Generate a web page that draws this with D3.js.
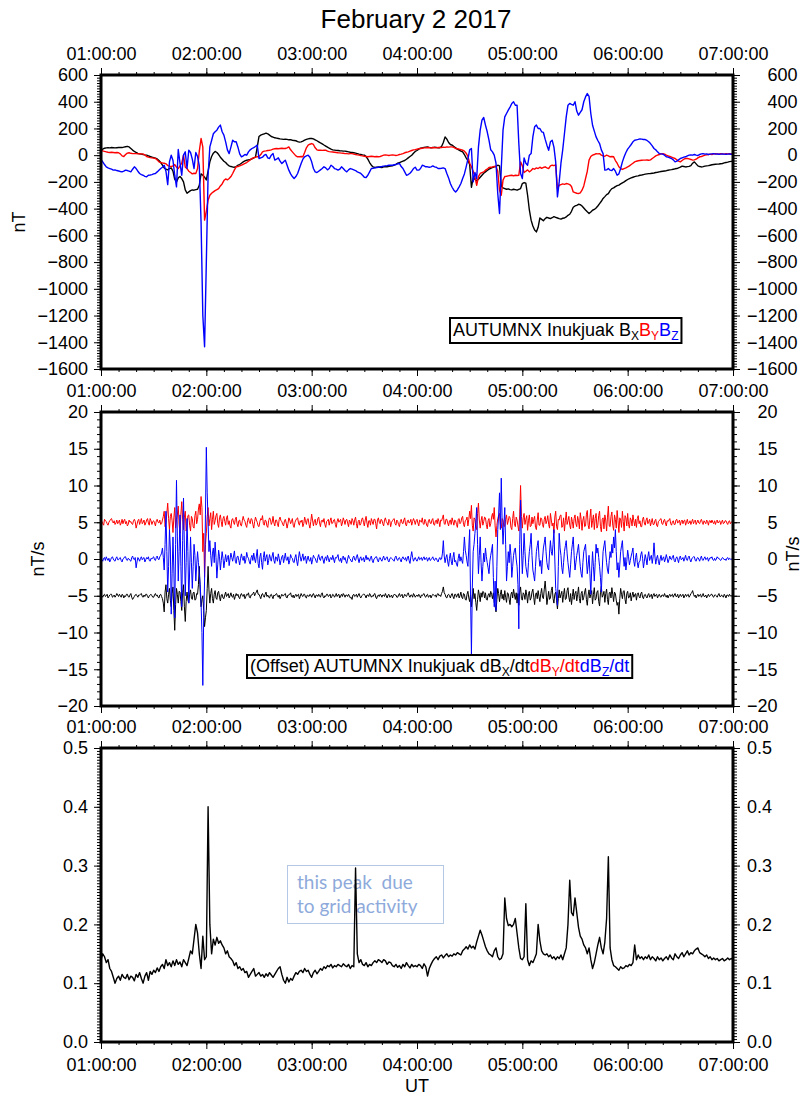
<!DOCTYPE html>
<html>
<head>
<meta charset="utf-8">
<script src="https://cdn.jsdelivr.net/npm/d3@7"></script>
<style>
  body { margin: 0; background: #fff; }
  svg { display: block; font-family: "Liberation Sans", Arial, Helvetica, sans-serif; }
</style>
</head>
<body>
<svg width="802" height="1096"></svg>
<script>
'use strict';

// samples start at 01:00:00 UT
const startTime = Date.UTC(2017, 1, 2, 1, 0, 0);
const endTime = Date.UTC(2017, 1, 2, 7, 0, 0);
const fieldStepSeconds = 60;
const rateStepSeconds = 30;
const lowerStepSeconds = 60;

const hourTicks = ["01:00:00", "02:00:00", "03:00:00", "04:00:00", "05:00:00", "06:00:00", "07:00:00"];
const fieldTicks = [600, 400, 200, 0, -200, -400, -600, -800, -1000, -1200, -1400, -1600];
const rateTicks = [20, 15, 10, 5, 0, -5, -10, -15, -20];
const lowerTicks = [0.5, 0.4, 0.3, 0.2, 0.1, 0.0];

// field components, nT, one per minute
const bx = [
  40, 45, 52, 55, 56, 55, 57, 56, 55, 56,
  57, 58, 57, 60, 63, 66, 62, 50, 38, 28,
  20, 14, 10, 8, 5, 2, 0, -5, -10, -14,
  -18, -22, -28, -40, -55, -75, -95, -105, -110, -100,
  -95, -120, -180, -200, -170, -160, -175, -200, -260, -285,
  -275, -265, -260, -262, -258, -255, -225, -140, -150, -165,
  -185, -120, -50, -10, 15, 28, 20, 5, -15, -30,
  -45, -55, -70, -80, -85, -88, -90, -85, -75, -70,
  -60, -50, -42, -38, -35, -32, -28, -20, -15, 60,
  140, 150, 155, 160, 165, 160, 150, 140, 135, 130,
  128, 125, 122, 120, 118, 120, 118, 115, 116, 112,
  110, 108, 102, 98, 100, 105, 112, 118, 122, 125,
  125, 122, 115, 108, 100, 92, 85, 76, 68, 60,
  52, 45, 40, 38, 36, 35, 33, 32, 30, 30,
  28, 25, 22, 20, 18, 15, 12, 8, 5, 2,
  0, -10, -30, -55, -75, -88, -92, -90, -88, -90,
  -92, -88, -85, -87, -84, -82, -80, -75, -68, -60,
  -55, -50, -45, -40, -30, -20, -10, 0, 15, 28,
  35, 45, 52, 55, 58, 60, 62, 58, 55, 57,
  60, 58, 55, 56, 65, 95, 137, 120, 95, 80,
  75, 65, 55, 45, 38, 30, 25, 5, -20, -40,
  -70, -240, -170, -180, -190, -180, -165, -150, -135, -125,
  -115, -105, -98, -92, -88, -85, -75, -80, -230, -245,
  -250, -255, -252, -258, -260, -255, -258, -262, -256, -250,
  -212, -205, -210, -300, -410, -486, -530, -560, -574, -540,
  -470, -480, -490, -475, -465, -470, -474, -468, -460, -465,
  -470, -475, -478, -472, -470, -462, -450, -442, -420, -390,
  -380, -375, -367, -370, -380, -395, -410, -424, -436, -425,
  -412, -406, -395, -380, -362, -345, -324, -310, -295, -287,
  -265, -250, -245, -235, -228, -224, -215, -207, -200, -190,
  -182, -175, -170, -165, -160, -157, -155, -150, -148, -145,
  -142, -140, -138, -137, -135, -133, -130, -128, -125, -122,
  -120, -118, -116, -113, -110, -108, -105, -102, -100, -95,
  -90, -82, -85, -88, -86, -84, -78, -60, -50, -65,
  -80, -85, -88, -86, -82, -80, -78, -75, -72, -70,
  -68, -67, -66, -64, -62, -58, -55, -52, -48, -46,
  -45
];

const by = [
  37, 32, 28, 25, 22, 20, 22, 20, 18, 20,
  18, 10, -5, -10, 5, 15, 18, 14, 12, 12,
  12, 10, 12, 10, 8, 2, -10, -15, -18, -20,
  -22, -25, -35, -50, -55, -58, -60, -65, -78, -82,
  -85, -80, -70, -90, -100, -80, -60, 0, -90, -100,
  -120, -130, -140, -135, -138, -100, 30, 125, 60, -486,
  -420, -337, -300, -285, -275, -265, -258, -250, -230, -215,
  -190, -178, -185, -175, -160, -137, -110, -87, -85, -80,
  -75, -68, -62, -55, -45, -35, -25, -20, -15, -12,
  -10, 5, 25, 30, 32, 35, 37, 40, 45, 48,
  50, 48, 50, 52, 50, 50, 55, 62, 40, 25,
  10, -5, -12, -12, -10, -12, 20, 55, 75, 82,
  87, 80, 55, 40, 37, 38, 36, 37, 37, 30,
  27, 25, 24, 22, 20, 18, 17, 15, 14, 12,
  12, 10, 12, 12, 8, 5, 2, 0, -3, -5,
  -8, -10, -12, -10, -8, -10, -12, -10, -12, -10,
  -5, 0, 2, 0, -2, 0, 2, 0, -2, 0,
  5, 8, 12, 18, 22, 25, 30, 35, 40, 42,
  45, 48, 50, 52, 55, 55, 57, 56, 55, 57,
  56, 55, 57, 58, 57, 60, 58, 62, 60, 62,
  62, 58, 50, 48, 45, 42, 37, 30, 15, -10,
  -60, -87, -120, -162, -225, -160, -137, -130, -125, -112,
  -105, -92, -90, -88, -85, -82, -120, -262, -300, -187,
  -160, -158, -155, -152, -150, -155, -150, -152, -150, -50,
  -80, -130, -120, -110, -125, -115, -100, -105, -95, -100,
  -90, -98, -92, -87, -95, -100, -80, -75, -78, -72,
  -250, -225, -220, -215, -218, -212, -215, -220, -235, -275,
  -280, -285, -287, -282, -262, -230, -175, -120, -37, -10,
  0, 5, 12, 10, 12, 0, -5, -8, 0, -5,
  -12, -10, -12, -40, -60, -87, -100, -107, -100, -95,
  -88, -80, -70, -60, -50, -45, -42, -40, -38, -37,
  -37, -36, -38, -35, -25, -15, -5, 0, 5, 10,
  12, 8, 0, -5, -10, -15, -20, -25, -35, -45,
  -50, -40, -30, -25, -25, -28, -32, -37, -35, -30,
  -20, -12, -10, -5, 0, 2, 5, 8, 5, 10,
  12, 10, 8, 12, 10, 8, 12, 10, 12, 10,
  10
];

const bz = [
  -32, -50, -70, -87, -95, -100, -105, -112, -110, -115,
  -118, -122, -125, -120, -112, -115, -120, -125, -105, -87,
  -100, -120, -137, -145, -150, -158, -162, -150, -148, -145,
  -140, -137, -125, -112, -100, -90, -75, -120, -220, -50,
  0, -40, -150, -237, 42, -60, -150, 0, 25, -100,
  37, 20, -30, -100, 20, -10, -80, -500, -1200, -1434,
  -800, -150, 62, 110, 160, 175, 187, 210, 225, 175,
  150, 100, 40, 12, 60, 112, 100, 100, 60, 10,
  -12, -5, 5, 0, 25, 40, 50, 57, 65, 75,
  -25, -20, -15, 0, 5, -20, -25, 0, 12, -37,
  -30, -20, -45, -62, -50, -37, -75, -112, -140, -160,
  -175, -160, -137, -100, -62, -30, -12, -5, 0, -15,
  -50, -100, -125, -130, -120, -110, -100, -87, -95, -110,
  -100, -75, -85, -100, -105, -112, -105, -87, -100, -115,
  -125, -110, -100, -105, -110, -115, -125, -130, -137, -150,
  -165, -167, -150, -125, -100, -98, -95, -92, -90, -87,
  -85, -82, -80, -78, -75, -75, -75, -72, -70, -65,
  -62, -85, -100, -125, -150, -145, -135, -120, -100, -90,
  -112, -112, -100, -75, -80, -87, -87, -90, -87, -80,
  -87, -90, -100, -100, -98, -95, -100, -137, -170, -212,
  -240, -262, -275, -260, -237, -212, -175, -140, -87, -30,
  40, 50, -200, -130, -175, 60, 187, 262, 282, 225,
  175, 112, 40, 25, 0, -60, -287, -436, -100, 187,
  287, 312, 337, 360, 387, 400, 374, 374, 87, -137,
  -175, -20, -60, -75, 0, 12, 137, 212, 225, 200,
  200, 175, 170, 120, 75, 37, 100, 112, 60, -50,
  -312, -200, -60, 40, 162, 287, 374, 387, 380, 374,
  400, 330, 299, 320, 340, 400, 436, 461, 440, 312,
  224, 180, 137, 110, 87, 40, 12, -112, -110, -100,
  -112, -115, -100, -120, -150, -140, -100, -50, -12, 20,
  45, 62, 80, 100, 112, 115, 118, 122, 120, 117,
  117, 110, 100, 87, 70, 50, 40, 25, 12, 10,
  8, 0, -12, -15, -20, -25, -35, -50, -45, -35,
  -25, -20, -15, -12, -5, 0, 2, 0, 5, 0,
  -2, 5, 10, 12, 8, 10, 5, 8, 10, 12,
  8, 10, 7, 8, 10, 8, 7, 8, 9, 7,
  7
];

// time derivatives, nT/s, one per 30 s (drawn with offsets)
const dbxdt = [
  0.1, 0.0, -0.2, 0.1, 0.2, -0.1, 0.0, 0.2, -0.3, -0.1, 0.1, 0.2, 0.2, -0.2, -0.1, 0.1, -0.2, 0.0, 0.3, 0.1,
  -0.1, 0.2, 0.0, -0.2, 0.2, 0.1, -0.3, 0.0, -0.1, 0.2, 0.2, -0.1, -0.2, 0.1, 0.3, -0.2, -0.5, -0.3, -0.1, 0.1,
  0.2, 0.0, -0.2, 0.1, 0.1, 0.2, 0.3, -0.1, -0.2, 0.1, -0.1, 0.2, 0.2, -0.1, -0.3, 0.0, 0.1, 0.2, 0.0, -0.2,
  -0.2, 0.1, 0.3, 0.0, 0.1, -0.2, -0.3, 0.1, 0.2, -0.1, -0.4, -1.0, -2.2, 0.5, 1.5, -0.4, -1.0, 0.2, 1.0, -0.6,
  -1.5, 0.3, 1.2, -2.0, -4.7, -1.2, 1.0, 0.2, -1.0, 0.6, 0.5, -0.8, -2.0, 0.4, 1.5, -1.5, -3.5, -0.8, 0.5, -0.6,
  -1.0, 0.2, 0.8, -0.3, -0.5, 0.4, 0.5, -0.6, -0.5, 0.3, 0.2, 1.5, 4.0, 0.5, -1.5, -0.5, 0.0, -2.0, -4.2, -3.0,
  -2.0, 1.0, 4.0, 0.8, -1.0, 0.3, 1.0, -0.4, -1.0, 0.2, 0.7, -0.3, -0.5, 0.4, 0.6, -0.2, -0.7, 0.1, 0.2, -0.3,
  -0.4, 0.1, 0.5, -0.1, 0.1, 0.3, -0.3, 0.0, 0.4, -0.1, -0.2, 0.2, -0.5, -0.1, 0.3, 0.0, 0.2, -0.2, -0.4, 0.1,
  0.3, 0.0, -0.1, 0.2, -0.4, -0.1, 0.2, 0.1, 0.4, -0.2, -0.3, 0.1, 0.1, 0.3, 0.5, 0.0, 0.3, 0.5, 0.8, 0.2,
  0.2, -0.1, -0.4, 0.1, 0.3, 0.0, -0.2, 0.2, 0.5, -0.1, 0.1, -0.2, -0.3, 0.1, 0.2, -0.1, -0.4, 0.1, 0.0, 0.2,
  0.3, 0.0, -0.2, 0.1, -0.4, -0.1, 0.2, 0.0, 0.0, 0.2, 0.3, -0.2, -0.3, 0.1, 0.1, 0.2, 0.4, -0.1, -0.2, 0.1,
  -0.3, 0.0, 0.2, -0.1, 0.1, 0.2, -0.4, -0.1, 0.3, 0.0, -0.1, 0.2, 0.2, -0.2, -0.3, 0.1, 0.0, -0.1, 0.2, 0.1,
  -0.2, 0.1, 0.3, 0.0, -0.3, 0.1, 0.1, -0.1, 0.2, 0.0, -0.2, 0.2, 0.4, -0.1, -0.3, 0.0, -0.1, 0.2, 0.2, -0.1,
  0.0, 0.2, -0.3, -0.1, 0.2, 0.1, -0.2, 0.0, 0.3, -0.1, 0.1, 0.2, -0.3, 0.0, 0.2, -0.1, 0.3, 0.1, -0.2, 0.1,
  0.1, -0.1, 0.2, 0.0, -0.3, -0.2, -0.5, 0.1, 0.2, -0.1, 0.0, 0.2, -0.2, 0.1, 0.3, -0.1, -0.3, 0.0, 0.1, 0.2,
  0.2, 0.0, -0.3, 0.1, 0.1, -0.1, 0.3, 0.1, -0.2, 0.0, -0.1, 0.2, 0.3, -0.2, -0.4, 0.0, 0.1, -0.1, 0.2, 0.1,
  -0.2, 0.1, 0.1, -0.1, 0.3, 0.0, -0.3, 0.1, 0.2, -0.2, -0.1, 0.1, -0.3, 0.0, 0.2, 0.1, 0.1, -0.2, -0.2, 0.1,
  0.3, -0.1, 0.0, 0.2, -0.3, -0.1, 0.2, 0.0, -0.1, 0.2, 0.4, 0.0, -0.2, 0.1, 0.1, -0.2, 0.3, 0.1, -0.2, 0.0,
  0.1, -0.1, 0.2, 0.0, -0.3, 0.1, 0.0, 0.2, 0.3, -0.1, -0.2, 0.1, 0.2, -0.2, -0.1, 0.1, -0.3, 0.0, 0.2, 0.1,
  0.0, 0.1, -0.2, 0.2, 0.3, 0.0, 0.1, -0.1, 0.3, 0.6, 1.2, 0.4, 0.2, -0.2, -0.3, 0.1, 0.2, 0.0, -0.3, 0.1,
  0.3, -0.1, -0.4, 0.2, 0.2, -0.2, 0.1, 0.3, -0.3, 0.0, 0.5, -0.2, -0.4, 0.3, 0.2, -0.5, -0.6, 0.2, 0.6, -0.3,
  -0.8, 0.2, -1.5, -0.3, 1.0, -0.4, 0.3, -0.9, -2.0, -0.5, 0.8, 0.1, -0.8, 0.4, -0.2, 0.6, 0.5, -0.3, 0.4, -0.5,
  -0.6, 0.1, 0.3, -0.2, 0.6, 0.2, -0.4, 0.4, -0.9, -1.4, -2.2, -0.5, 1.0, 0.3, -0.8, 0.2, 0.8, -0.4, 0.2, -0.6,
  0.7, -0.2, -0.9, 0.4, 0.3, -0.5, -1.2, 0.2, 0.5, -0.3, 0.9, 0.1, -0.5, 0.4, -1.0, 0.3, -1.3, 0.5, 1.2, -0.4,
  -0.6, 0.4, 0.2, -0.5, 0.8, 0.1, -1.0, 0.3, 0.6, -0.6, -0.3, 0.5, 0.9, -0.2, -1.2, 0.2, 0.4, -0.4, 0.7, -0.1,
  -0.8, 0.3, 1.0, -0.2, -0.4, 0.9, 2.0, 0.5, -1.2, -0.3, 0.6, -0.5, -0.3, 0.7, 1.2, -0.4, -1.0, 0.2, 0.5, -0.6,
  -1.8, -0.4, 0.8, -0.3, 0.2, 0.6, -0.9, 0.2, 1.0, -0.5, -0.4, 0.7, 1.1, -0.2, -0.8, 0.3, -1.2, -0.1, 0.9, -0.5,
  0.3, 0.6, -0.7, 0.2, 1.2, -0.4, -1.0, 0.3, 0.6, -0.6, -0.2, 0.5, 1.0, -0.5, -1.3, 0.1, 0.8, -0.3, 0.2, 0.7,
  -1.1, 0.2, 1.1, -0.6, -0.4, 0.5, 0.7, -0.8, -1.4, 0.4, 1.3, -0.2, 0.1, 0.6, -0.9, 0.3, 0.9, -0.5, -1.2, 0.4,
  0.5, -0.3, 1.1, 0.2, -0.8, 0.5, 0.3, -0.6, -1.3, -0.9, -2.5, -0.4, 1.0, 0.2, -0.4, 0.6, 0.7, -0.5, -1.1, 0.3,
  0.6, -0.3, -0.2, 0.4, -0.7, 0.0, 0.5, -0.2, 0.1, 0.3, -0.6, 0.2, 0.4, -0.1, -0.3, 0.3, 0.5, -0.2, -0.4, 0.1,
  0.2, -0.1, -0.3, 0.1, 0.3, -0.2, 0.0, 0.2, -0.4, 0.1, 0.3, -0.1, 0.1, 0.2, -0.3, 0.0, 0.2, -0.1, -0.2, 0.1,
  0.1, -0.1, 0.3, 0.0, -0.2, 0.1, -0.3, 0.0, 0.2, -0.1, 0.1, 0.2, -0.2, 0.1, 0.3, -0.1, -0.1, 0.2, -0.3, 0.0,
  0.2, -0.1, 0.0, 0.2, -0.3, 0.0, 0.2, -0.1, 0.1, 0.2, -0.2, 0.0, 0.3, 0.4, 0.7, 0.2, -0.1, 0.1, -0.3, 0.0,
  0.2, -0.1, 0.1, 0.2, -0.2, 0.0, 0.3, -0.1, -0.1, 0.1, -0.3, 0.0, 0.2, -0.1, 0.0, 0.2, 0.2, -0.1, -0.2, 0.1,
  0.1, 0.0, -0.2, 0.1, 0.3, -0.1, -0.1, 0.1, 0.0, -0.2, 0.2, 0.0, -0.3, 0.1, 0.1, -0.1, 0.2, 0.0, -0.1, 0.1,
  0.0
];

const dbydt = [
  0.3, 0.1, -0.2, -0.4, 0.4, 0.2, 0.1, -0.2, -0.4, 0.0, 0.2, 0.4, 0.5, 0.1, -0.1, 0.2, -0.3, -0.1, 0.3, -0.2,
  0.0, 0.3, -0.4, -0.1, 0.4, -0.2, 0.2, 0.4, -0.2, 0.1, -0.5, -0.3, 0.3, 0.0, 0.1, -0.2, -0.3, 0.2, 0.4, 0.1,
  -0.8, -0.3, 0.2, 0.4, -0.3, 0.1, 0.5, -0.2, 0.0, 0.3, -0.4, -0.1, 0.3, 0.5, -0.1, -0.4, 0.5, 0.2, -0.3, 0.1,
  0.2, -0.1, -0.5, 0.2, 0.4, 0.0, -0.1, 0.3, -0.3, -0.2, 0.3, 0.8, 1.5, -0.6, 0.0, 1.2, 2.6, 0.5, -1.0, 0.8,
  1.2, 0.2, -1.4, 0.6, 2.0, -0.8, 0.4, 1.0, 2.2, -0.3, -1.5, 1.1, 2.8, 0.4, -1.0, 0.7, 1.5, -1.2, -0.5, 0.9,
  1.0, -0.4, -1.2, 0.8, 0.5, -0.6, -0.8, 0.9, 1.5, -0.2, 0.4, 1.8, 2.5, 1.0, 3.5, 2.0, -4.0, -1.5, -7.5, -3.0,
  -1.5, 0.8, 2.0, -0.5, 0.5, 1.3, -1.0, 0.4, 1.5, -0.3, 0.2, 0.9, 1.2, -0.2, -0.7, 0.6, 1.0, 0.1, -0.6, 0.5,
  0.8, 0.1, -0.4, 0.6, 0.9, -0.3, 0.2, -0.5, -0.8, 0.3, 0.5, 0.0, -0.3, 0.4, 0.7, -0.2, -0.6, 0.2, 0.3, -0.4,
  -0.5, 0.2, 0.8, 0.3, 0.1, -0.4, -0.7, 0.2, 0.6, 0.0, -0.2, 0.5, 0.4, -0.3, -0.8, 0.1, 0.7, 0.3, 0.0, -0.5,
  -0.6, 0.1, 0.5, 0.3, 0.9, -0.2, -0.4, 0.3, 0.2, -0.5, -0.7, 0.2, 0.6, 0.4, -0.3, 0.0, 0.8, -0.1, -0.5, 0.3,
  0.3, -0.2, -0.6, 0.4, 0.7, 0.2, 0.1, -0.3, -0.5, 0.2, 0.4, -0.1, -0.8, -0.2, 0.6, 0.3, -0.2, 0.1, 0.5, -0.4,
  -0.7, 0.0, 0.3, 0.5, 0.6, -0.1, -0.4, 0.2, 0.0, 0.3, -0.6, -0.2, 0.7, 0.2, -0.3, 0.4, 0.5, -0.3, -0.8, 0.1,
  1.1, 0.3, -0.5, 0.2, 0.4, -0.4, -0.2, 0.5, 0.7, -0.1, -0.6, 0.2, 0.3, 0.0, 0.5, -0.3, -0.7, 0.1, 0.2, 0.4,
  -0.4, 0.2, 0.6, -0.2, -0.1, 0.3, 0.4, -0.3, -0.7, 0.1, 0.5, 0.0, 0.2, 0.4, -0.5, -0.1, 0.6, 0.2, -0.3, 0.3,
  0.4, -0.1, -0.6, 0.3, 0.1, -0.3, 0.5, 0.2, -0.4, 0.3, 0.7, -0.2, -0.8, 0.1, 0.3, -0.4, -0.2, 0.4, 0.6, 0.0,
  -0.5, 0.3, 0.8, -0.1, -0.7, 0.2, 0.2, -0.4, 0.5, 0.1, -0.3, 0.4, 0.4, -0.2, -0.9, 0.3, 0.6, 0.0, -0.2, 0.4,
  0.3, -0.2, -0.5, 0.3, 0.6, 0.1, -0.1, -0.4, 0.4, 0.2, -0.6, 0.0, 0.2, 0.4, 0.5, -0.2, -0.4, 0.3, 0.1, -0.3,
  -0.6, 0.1, 0.4, -0.1, -0.2, 0.3, 0.6, -0.3, -0.5, 0.2, 0.3, -0.1, 0.0, 0.4, -0.4, 0.1, 0.5, 0.2, -0.3, 0.2,
  0.4, -0.1, -0.5, 0.3, 0.2, 0.0, 0.6, -0.2, -0.3, 0.4, 0.1, -0.4, -0.6, 0.2, 0.4, -0.1, -0.2, 0.3, 0.5, -0.3,
  -0.4, 0.2, 0.3, -0.2, 0.5, 0.1, -0.6, 0.3, 0.2, 0.6, 1.0, -0.2, -0.3, 0.4, 0.4, -0.1, -0.5, 0.2, 0.3, -0.3,
  0.6, 0.1, -0.4, 0.3, 0.2, -0.3, -0.7, 0.4, 0.5, -0.2, 0.0, 0.6, 0.8, -0.3, -0.6, 0.2, 0.3, 0.7, -0.5, 0.4,
  1.5, 0.5, 2.3, -0.4, -1.2, 0.6, 0.4, -0.5, -1.0, 1.2, 2.6, 0.3, -0.8, 0.2, 0.8, -0.4, 0.1, 0.7, 0.6, -0.3,
  -0.9, 0.2, 0.5, -0.6, -0.2, 0.7, 1.2, 0.4, 2.0, -0.5, -2.0, -0.4, 0.5, 0.9, 1.2, -0.3, -0.8, 0.5, 0.3, -0.6,
  -0.5, 0.4, 1.0, -0.3, 0.2, 0.8, 0.6, -0.7, -1.0, 0.5, 1.5, -0.2, -0.6, 0.7, 0.3, -0.5, -1.2, 1.0, 5.0, 0.8,
  -0.8, 0.6, 1.2, -0.3, 0.4, 0.9, -1.1, 0.2, 1.0, -0.6, -0.5, 0.7, -0.2, 0.4, 0.8, -0.7, -1.0, 0.3, 1.3, -0.4,
  -0.4, 0.6, 0.5, -0.3, -0.7, 0.4, 0.8, -0.2, 0.2, 0.9, -0.3, -0.8, 1.2, 0.3, -0.5, -0.1, -1.5, 0.7, 1.5, -0.6,
  -1.0, 0.4, 0.3, 0.9, 1.0, -0.7, -0.5, 0.6, -1.2, 0.2, 1.4, -0.3, 0.2, 0.8, -0.4, -0.9, 0.7, 0.1, -0.8, 0.5,
  1.0, -0.2, -0.6, 0.8, 0.2, -0.9, 1.3, 0.4, -1.1, 0.3, 0.8, -0.6, -0.5, 1.1, 1.6, -0.4, -0.9, 0.6, 1.8, -0.7,
  0.2, 1.0, -1.0, 0.5, 1.2, -0.8, -0.4, 0.9, 1.5, -0.6, -1.3, 0.4, 0.6, -0.9, 1.0, 0.3, -1.2, 0.7, 2.2, -0.5,
  -0.6, 0.8, 1.4, -0.4, -1.1, 1.0, 0.4, -0.8, 1.6, 0.2, -1.4, 0.6, 0.3, -0.7, 1.5, 0.1, -1.2, 0.9, 0.6, -0.5,
  1.2, -0.3, -0.8, 0.6, 0.3, -0.5, 1.0, 0.2, -0.5, 0.4, -0.7, 0.5, 0.9, -0.2, 0.2, -0.6, -0.6, 0.4, 0.7, -0.1,
  -0.4, 0.3, 0.6, -0.2, 0.1, 0.4, -0.5, 0.0, 0.5, -0.3, -0.3, 0.2, 0.4, -0.4, -0.6, 0.1, 0.2, 0.4, 0.5, -0.2,
  -0.3, 0.2, 0.4, -0.1, -0.5, 0.2, 0.1, 0.3, 0.5, -0.2, -0.4, 0.1, 0.2, -0.3, -0.3, 0.3, 0.4, -0.1, 0.0, 0.3,
  -0.4, 0.1, 0.3, -0.2, 0.2, 0.3, -0.4, 0.0, 0.4, -0.2, -0.1, 0.2, -0.3, 0.1, 0.4, -0.2, 0.1, 0.3, -0.3, 0.0,
  0.3, -0.1, -0.2, 0.2, 0.4, 0.0, -0.3, 0.2, 0.0, -0.2, 0.3, 0.1, -0.4, 0.2, 0.2, -0.1, 0.3, 0.0, -0.2, 0.2,
  -0.3, 0.1, 0.3, -0.1, 0.1, 0.2, -0.3, 0.0, 0.3, -0.2, -0.1, 0.2, 0.2, -0.1, -0.3, 0.1, 0.2, -0.2, 0.0, 0.1,
  0.0
];

const dbzdt = [
  0.1, -0.1, -0.3, 0.1, 0.2, -0.2, 0.3, 0.0, -0.2, 0.1, -0.4, -0.1, 0.2, 0.3, 0.0, -0.2, -0.3, 0.1, 0.3, -0.1,
  -0.1, 0.1, 0.2, -0.2, -0.4, 0.0, 0.1, 0.3, 0.3, -0.1, -0.2, 0.1, 0.0, -0.2, -0.3, 0.2, 0.4, 0.0, -0.1, 0.2,
  -1.2, -0.4, 0.2, 0.0, -0.3, 0.1, 0.3, -0.1, 0.1, 0.2, -0.4, -0.1, 0.2, 0.0, 0.3, -0.2, -0.3, 0.1, 0.0, 0.2,
  0.3, -0.1, -0.2, 0.2, 0.4, 0.0, -0.1, 0.3, 0.5, 0.8, 1.5, 0.2, -1.5, 2.0, 6.5, 1.0, -4.5, -1.0, 4.0, 1.5,
  -7.5, -2.0, 3.0, -1.5, -8.0, 2.0, 10.7, 3.0, -3.0, 1.0, 6.0, -1.0, -6.5, 2.5, 8.3, 1.5, -5.0, -0.5, 5.5, 1.0,
  -6.0, -1.5, 3.0, -0.5, -4.0, -1.0, 2.0, 0.5, -3.0, -0.8, 1.0, -0.5, -2.0, -3.5, -6.0, -10.0, -17.2, -8.0, -3.0, 6.0,
  15.2, 9.0, 5.0, 1.0, 2.5, 0.5, -1.0, 0.8, 1.5, -0.5, 2.3, 0.2, -2.6, -0.8, 1.2, 0.3, -1.5, -0.2, 1.0, 0.1,
  -1.2, -0.2, 0.6, -0.4, 0.2, 0.5, -0.9, 0.0, 0.8, 0.2, -0.3, 0.4, 1.1, -0.3, -0.6, 0.3, 0.4, -0.2, -0.8, 0.1,
  0.7, 0.1, -0.2, 0.4, -0.6, -0.1, 0.9, 0.3, 0.1, -0.4, -0.7, 0.2, 0.5, -0.2, 0.8, 0.0, -0.5, 0.4, 1.3, -0.6,
  -1.2, 0.3, 0.8, -0.5, -1.4, 0.2, 1.0, -0.3, 0.2, 0.6, -0.8, -0.2, 0.6, 0.1, -0.3, 0.4, 0.9, -0.2, -0.6, 0.3,
  0.2, -0.3, 0.7, 0.1, -0.8, -0.2, 0.3, 0.5, -0.5, 0.1, 0.8, -0.1, -0.2, 0.3, -0.7, -0.2, 0.6, 0.2, 0.1, -0.4,
  -0.5, 0.2, 0.6, -0.3, -0.9, 0.1, 1.0, 0.3, -0.3, 0.2, 0.7, -0.2, 0.2, 0.4, -0.6, 0.0, 0.4, -0.2, -0.3, 0.2,
  -0.7, -0.1, 0.5, 0.2, 0.1, -0.3, -0.5, 0.2, 0.6, 0.0, -0.2, 0.3, 0.4, -0.1, -0.6, 0.1, 0.3, -0.2, 0.5, 0.1,
  -0.4, 0.1, 0.2, -0.1, 0.5, 0.0, -0.5, 0.2, 0.1, 0.3, 0.6, -0.2, -0.3, 0.1, -0.5, 0.2, 0.4, -0.1, 0.2, -0.3,
  -0.6, 0.0, 0.5, 0.1, 0.0, -0.3, -0.4, 0.2, 0.4, -0.1, -0.2, 0.3, 0.6, 0.0, -0.5, 0.1, 0.3, -0.2, -0.1, 0.2,
  -0.4, 0.1, 0.5, -0.1, 0.2, 0.0, -0.3, 0.2, 0.4, -0.2, -0.5, 0.0, 0.1, 0.3, 0.3, -0.2, -0.4, 0.1, 0.2, -0.1,
  -0.3, 0.1, 0.4, -0.1, -0.1, 0.2, 0.3, -0.2, -0.4, 0.0, 0.2, 0.1, 0.0, -0.2, -0.3, 0.2, 0.4, 0.0, -0.2, 0.1,
  0.2, -0.1, -0.4, 0.1, 0.3, 0.0, -0.1, 0.2, -0.3, 0.1, 0.4, -0.2, -0.6, 0.3, 1.0, 0.2, -0.3, 0.0, 0.2, -0.1,
  -0.3, 0.0, 0.3, -0.1, 0.0, 0.2, -0.2, 0.1, 0.3, -0.1, 0.1, 0.2, -0.3, 0.0, 0.2, -0.2, -0.1, 0.1, 0.3, -0.1,
  -0.2, 0.1, 0.1, -0.2, -0.4, 0.0, 0.2, -0.1, 0.0, 0.8, 2.5, 0.4, -0.5, 0.2, 0.6, -0.4, -1.0, 0.1, 0.8, -0.3,
  -0.8, 0.2, 0.9, -0.4, -0.2, -0.7, -1.0, 0.1, 0.7, -0.3, 0.3, -0.2, -0.6, 1.0, 3.0, 1.2, 0.5, -0.4, -1.0, 1.5,
  4.0, -5.0, -13.0, -4.0, 1.0, 2.0, 3.5, 5.0, 7.0, 2.0, -2.0, 0.5, 3.0, -0.5, -3.0, -1.0, 0.8, -0.4, 1.5, 0.3,
  -0.5, -1.2, -2.0, -0.3, 0.5, 1.2, 2.0, -2.5, -6.5, -3.0, -7.0, -1.0, 4.0, 6.0, 9.0, 4.0, 11.0, 5.0, 2.0, 4.5,
  7.0, 2.0, -3.0, -1.0, 1.0, -0.5, 2.0, 0.5, -2.5, -1.0, 0.5, 1.2, 1.5, 0.0, -1.0, -3.5, -9.5, 2.0, 8.0, 1.5,
  -2.0, 0.5, 3.5, 1.0, -1.0, -1.8, -2.5, -0.5, 1.0, 2.0, 3.5, 0.5, -1.5, -2.2, -3.0, -1.0, 1.0, 1.8, 2.5, 0.2,
  -1.0, -0.2, -2.0, 0.0, 1.5, 2.2, 3.0, 1.0, -0.5, -1.2, -1.5, 0.8, 2.5, 1.0, 0.5, 2.0, 4.0, 0.0, -4.0, -5.0,
  -6.3, -1.0, 3.5, 1.5, 0.5, -1.2, -2.0, -0.5, 1.0, 1.8, 2.5, 0.8, -0.5, -1.5, -2.5, -0.8, 1.0, 2.0, 3.0, 0.5,
  -1.5, -0.5, 0.5, 1.2, 2.0, 0.4, -1.0, -2.0, -2.5, -0.5, 1.0, 1.5, 2.0, 0.0, -2.0, -0.8, 0.5, -2.0, -4.8, -1.5,
  1.0, -1.0, -3.0, -0.5, 2.0, 0.8, 1.5, 0.2, -1.0, -2.5, -4.5, -1.5, 1.0, 1.8, 2.5, 0.8, -0.5, -1.5, -2.0, -0.2,
  1.0, 0.2, 2.0, 0.8, 3.0, 1.5, 4.0, 1.0, -1.5, -0.5, -2.5, -0.8, 1.0, 1.8, 2.5, 0.4, -1.0, 0.2, -1.5, -0.3,
  1.2, 0.3, -0.8, -0.2, 0.4, 0.9, 1.5, -0.3, -1.0, 0.2, 0.8, -0.5, -1.2, -0.4, -0.3, 0.6, 1.0, 0.1, -1.2, -0.3,
  0.6, 0.0, -0.8, 0.3, 1.0, -0.2, 0.2, 0.5, -0.6, 0.3, 2.2, 0.4, -0.7, 0.1, 0.5, -0.3, -0.8, 0.0, 0.5, -0.2,
  0.1, 0.3, -0.4, 0.0, 0.6, 0.1, -0.5, -0.1, 0.4, 0.0, -0.1, 0.3, 0.5, -0.2, -0.4, 0.1, 0.3, -0.1, -0.5, 0.2,
  0.4, -0.1, 0.0, 0.2, -0.3, 0.1, 0.5, -0.1, -0.2, 0.2, 0.4, -0.1, -0.4, 0.0, 0.2, 0.3, 0.3, -0.2, -0.3, 0.1,
  0.2, 0.0, -0.3, 0.1, 0.4, -0.1, -0.2, 0.1, 0.3, -0.1, 0.0, 0.2, -0.3, 0.0, 0.2, 0.1, 0.3, -0.1, -0.2, 0.1,
  -0.2, 0.0, 0.3, 0.1, 0.1, -0.1, -0.2, 0.0, 0.2, 0.1, -0.1, 0.0, -0.2, 0.1, 0.2, -0.1, 0.1, 0.0, -0.1, 0.1,
  0.0
];

const offsetX = -5, offsetY = 5, offsetZ = 0;

// lower panel trace, one per minute
const lowerTrace = [
  0.140, 0.150, 0.145, 0.135, 0.140, 0.125, 0.120, 0.110, 0.100, 0.108,
  0.112, 0.105, 0.115, 0.110, 0.108, 0.115, 0.106, 0.112, 0.110, 0.104,
  0.115, 0.110, 0.118, 0.108, 0.100, 0.112, 0.118, 0.105, 0.120, 0.115,
  0.122, 0.118, 0.126, 0.120, 0.128, 0.132, 0.125, 0.140, 0.130, 0.135,
  0.128, 0.138, 0.130, 0.140, 0.132, 0.136, 0.128, 0.140, 0.135, 0.130,
  0.142, 0.155, 0.150, 0.175, 0.200, 0.185, 0.150, 0.125, 0.180, 0.140,
  0.145, 0.400, 0.200, 0.150, 0.175, 0.165, 0.178, 0.168, 0.172, 0.165,
  0.160, 0.150, 0.155, 0.145, 0.142, 0.138, 0.130, 0.135, 0.125, 0.128,
  0.122, 0.125, 0.118, 0.120, 0.110, 0.115, 0.120, 0.125, 0.112, 0.115,
  0.118, 0.112, 0.115, 0.110, 0.116, 0.112, 0.118, 0.114, 0.110, 0.115,
  0.120, 0.125, 0.128, 0.115, 0.105, 0.100, 0.110, 0.102, 0.108, 0.105,
  0.112, 0.118, 0.115, 0.120, 0.122, 0.118, 0.125, 0.120, 0.122, 0.115,
  0.110, 0.118, 0.122, 0.116, 0.120, 0.125, 0.122, 0.128, 0.125, 0.130,
  0.128, 0.132, 0.126, 0.130, 0.128, 0.132, 0.130, 0.128, 0.133, 0.130,
  0.128, 0.132, 0.125, 0.130, 0.128, 0.296, 0.150, 0.135, 0.140, 0.132,
  0.130, 0.135, 0.128, 0.132, 0.130, 0.135, 0.138, 0.135, 0.140, 0.138,
  0.135, 0.140, 0.138, 0.132, 0.136, 0.135, 0.130, 0.128, 0.132, 0.127,
  0.130, 0.125, 0.132, 0.128, 0.135, 0.130, 0.126, 0.132, 0.128, 0.130,
  0.128, 0.132, 0.130, 0.125, 0.133, 0.128, 0.112, 0.125, 0.132, 0.138,
  0.142, 0.145, 0.140, 0.146, 0.148, 0.143, 0.147, 0.150, 0.145, 0.148,
  0.146, 0.150, 0.148, 0.152, 0.150, 0.148, 0.155, 0.158, 0.162, 0.158,
  0.165, 0.160, 0.163, 0.158, 0.170, 0.180, 0.190, 0.182, 0.172, 0.162,
  0.155, 0.150, 0.148, 0.145, 0.155, 0.160, 0.145, 0.140, 0.142, 0.150,
  0.245, 0.210, 0.198, 0.200, 0.196, 0.200, 0.210, 0.185, 0.160, 0.142,
  0.140, 0.145, 0.235, 0.140, 0.130, 0.138, 0.135, 0.142, 0.150, 0.200,
  0.172, 0.155, 0.150, 0.148, 0.150, 0.145, 0.148, 0.142, 0.145, 0.140,
  0.145, 0.142, 0.148, 0.140, 0.150, 0.160, 0.200, 0.275, 0.220, 0.215,
  0.245, 0.220, 0.195, 0.180, 0.175, 0.165, 0.160, 0.150, 0.160, 0.140,
  0.125, 0.135, 0.150, 0.165, 0.178, 0.160, 0.150, 0.170, 0.210, 0.315,
  0.160, 0.140, 0.130, 0.128, 0.125, 0.122, 0.128, 0.125, 0.126, 0.130,
  0.128, 0.132, 0.130, 0.135, 0.165, 0.140, 0.148, 0.142, 0.145, 0.140,
  0.145, 0.142, 0.148, 0.140, 0.145, 0.142, 0.138, 0.145, 0.140, 0.143,
  0.138, 0.142, 0.145, 0.140, 0.148, 0.143, 0.140, 0.150, 0.145, 0.142,
  0.148, 0.152, 0.145, 0.150, 0.155, 0.148, 0.152, 0.150, 0.155, 0.158,
  0.160, 0.152, 0.150, 0.148, 0.145, 0.148, 0.142, 0.145, 0.140, 0.143,
  0.140, 0.142, 0.138, 0.140, 0.142, 0.138, 0.140, 0.143, 0.140, 0.142,
  0.140
];

let svg = d3.select("svg");

let x = d3.scaleUtc()
    .domain([new Date(startTime), new Date(endTime)])
    .range([101, 733]);

let parseTick = d3.utcParse("%Y-%m-%d %H:%M:%S");
let hourValues = hourTicks.map(s => parseTick("2017-02-02 " + s));
let minorTimes = d3.utcMinute.every(10).range(new Date(startTime), new Date(endTime + 1));
let timeFmt = d3.utcFormat("%H:%M:%S");

let panels = [
  {top: 75, bottom: 369, domain: [-1600, 600], ticks: fieldTicks, minor: 110,
   format: d3.format("d"), width: 1.4, step: fieldStepSeconds, label: "nT", labelX: 25,
   traces: [[bx, 0, "#000"], [by, 0, "#f00"], [bz, 0, "#00f"]]},
  {top: 412, bottom: 706, domain: [-20, 20], ticks: rateTicks, minor: 40,
   format: d3.format("d"), width: 1, step: rateStepSeconds, label: "nT/s", labelX: 44,
   rightLabelX: 799, rightLabelY: 554,
   traces: [[dbxdt, offsetX, "#000"], [dbydt, offsetY, "#f00"], [dbzdt, offsetZ, "#00f"]]},
  {top: 748, bottom: 1042, domain: [0, 0.5], ticks: lowerTicks, minor: 100,
   format: d3.format(".1f"), width: 1.4, step: lowerStepSeconds, bottomLabels: true,
   traces: [[lowerTrace, 0, "#000"]]}
];

svg.append("text")
    .attr("x", 416)
    .attr("y", 28)
    .attr("text-anchor", "middle")
    .attr("font-size", 26)
    .text("February 2 2017");

// note box in the lower panel sits under the trace
let note = svg.append("g");
note.append("rect")
    .attr("x", 287.5).attr("y", 865.5)
    .attr("width", 156).attr("height", 58)
    .attr("fill", "none")
    .attr("stroke", "#b4c7e7");
note.append("text")
    .attr("font-family", "Lato, 'Open Sans', sans-serif")
    .attr("font-size", 19)
    .attr("fill", "#8eaadb")
  .selectAll("tspan")
  .data(["this peak\u00a0 due", "to grid activity"])
  .join("tspan")
    .attr("x", 297)
    .attr("y", (d, i) => 889 + i * 24)
    .text(d => d);

function styleAxis(a) {
  a.attr("font-family", null).attr("font-size", 18);
  a.select(".domain").remove();
  a.selectAll("line").attr("stroke", "#000");
  a.selectAll("text").attr("fill", "#000");
}

panels.forEach((p, k) => {
  let y = d3.scaleLinear().domain(p.domain).range([p.bottom, p.top]);
  let g = svg.append("g");

  g.append("clipPath")
      .attr("id", "clip" + k)
    .append("rect")
      .attr("x", 101).attr("y", p.top)
      .attr("width", 632).attr("height", p.bottom - p.top);

  // time axes on top and bottom
  g.append("g")
      .attr("transform", `translate(0,${p.top})`)
      .call(d3.axisTop(x).tickValues(minorTimes).tickSize(3).tickFormat(""))
      .call(styleAxis);
  g.append("g")
      .attr("transform", `translate(0,${p.top})`)
      .call(d3.axisTop(x).tickValues(hourValues).tickSize(7).tickPadding(8).tickFormat(timeFmt))
      .call(styleAxis);
  g.append("g")
      .attr("transform", `translate(0,${p.bottom})`)
      .call(d3.axisBottom(x).tickValues(minorTimes).tickSize(3).tickFormat(""))
      .call(styleAxis);
  g.append("g")
      .attr("transform", `translate(0,${p.bottom})`)
      .call(d3.axisBottom(x).tickValues(hourValues).tickSize(7).tickPadding(9)
        .tickFormat(p.bottomLabels ? timeFmt : ""))
      .call(styleAxis);

  // value axes on both sides
  let minorVals = y.ticks(p.minor);
  g.append("g")
      .attr("transform", "translate(101,0)")
      .call(d3.axisLeft(y).tickValues(minorVals).tickSize(4).tickFormat(""))
      .call(styleAxis);
  g.append("g")
      .attr("transform", "translate(101,0)")
      .call(d3.axisLeft(y).tickValues(p.ticks).tickSize(7).tickPadding(6).tickFormat(p.format))
      .call(styleAxis);
  g.append("g")
      .attr("transform", "translate(733,0)")
      .call(d3.axisRight(y).tickValues(minorVals).tickSize(4).tickFormat(""))
      .call(styleAxis);
  let right = g.append("g")
      .attr("transform", "translate(733,0)")
      .call(d3.axisRight(y).tickValues(p.ticks).tickSize(7).tickPadding(7).tickFormat(p.format))
      .call(styleAxis);
  let widest = d3.max(right.selectAll("text").nodes(), n => n.getComputedTextLength());
  right.selectAll("text")
      .attr("text-anchor", "end")
      .attr("x", 14 + widest);

  if (p.label) {
    g.append("text")
        .attr("transform", `translate(${p.labelX},${(p.top + p.bottom) / 2}) rotate(-90)`)
        .attr("text-anchor", "middle")
        .attr("font-size", 18)
        .text(p.label);
  }
  if (p.rightLabelX) {
    g.append("text")
        .attr("transform", `translate(${p.rightLabelX},${p.rightLabelY}) rotate(-90)`)
        .attr("text-anchor", "middle")
        .attr("font-size", 18)
        .text(p.label);
  }

  let lines = g.append("g").attr("clip-path", `url(#clip${k})`);
  p.traces.forEach(([values, offset, color]) => {
    lines.append("path")
        .datum(values)
        .attr("fill", "none")
        .attr("stroke", color)
        .attr("stroke-width", p.width)
        .attr("stroke-linejoin", "round")
        .attr("d", d3.line()
          .x((d, i) => x(new Date(startTime + i * p.step * 1000)))
          .y(d => y(d + offset)));
  });

  g.append("rect")
      .attr("x", 101).attr("y", p.top)
      .attr("width", 632).attr("height", p.bottom - p.top)
      .attr("fill", "none")
      .attr("stroke", "#000")
      .attr("stroke-width", 3);
});

svg.append("text")
    .attr("x", 417)
    .attr("y", 1092)
    .attr("text-anchor", "middle")
    .attr("font-size", 18)
    .text("UT");

// legends with subscripts
function legend(x0, boxTop, boxHeight, baseline, parts) {
  let box = svg.append("rect");
  let t = svg.append("text")
      .attr("x", x0)
      .attr("y", baseline)
      .attr("font-size", 18);
  let shift = 0;
  parts.forEach(([s, color, sub]) => {
    t.append("tspan").attr("fill", color).attr("dy", -shift).text(s);
    shift = 0;
    if (sub) {
      t.append("tspan").attr("fill", color).attr("font-size", 12).attr("dy", 4).text(sub);
      shift = 4;
    }
  });
  let bb = t.node().getBBox();
  box.attr("x", bb.x - 3).attr("y", boxTop)
      .attr("width", bb.width + 6).attr("height", boxHeight)
      .attr("fill", "#fff")
      .attr("stroke", "#000")
      .attr("stroke-width", 2);
}

legend(453, 318, 25, 336, [
  ["AUTUMNX Inukjuak B", "#000", "X"],
  ["B", "#f00", "Y"],
  ["B", "#00f", "Z"]
]);

legend(250, 655, 23, 672, [
  ["(Offset) AUTUMNX Inukjuak dB", "#000", "X"],
  ["/dt", "#000"],
  ["dB", "#f00", "Y"],
  ["/dt", "#f00"],
  ["dB", "#00f", "Z"],
  ["/dt", "#00f"]
]);
</script>
</body>
</html>
